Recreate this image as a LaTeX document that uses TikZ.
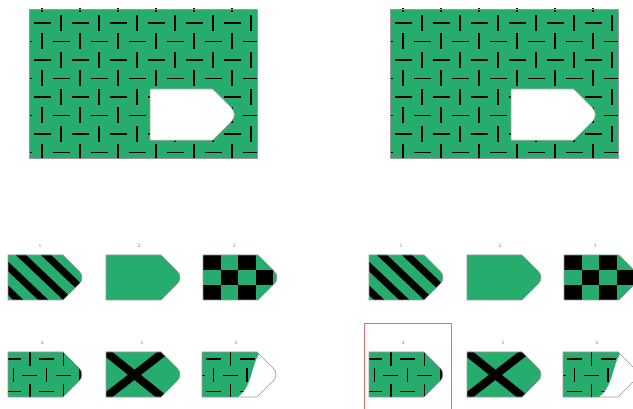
\documentclass[tikz,border=0pt]{standalone}
\usepackage{tikz}
\definecolor{tilegreen}{RGB}{38,172,108}
\definecolor{boxred}{RGB}{236,110,115}

% outline of one tag, local units (pt, y down)
\newcommand{\tagpath}{(0,0) -- (55,0) -- (71.5,16.5) arc (-45:45:8.5) -- (55,45) -- (0,45) -- cycle}
% the dash weave of the big board
\newcommand{\weave}{%
  \foreach \i in {-1,...,12}{%
    \foreach \j in {-1,...,8}{%
      \pgfmathsetmacro\wx{42+19*\i}%
      \pgfmathsetmacro\wy{23+18.5*\j}%
      \pgfmathtruncatemacro\wodd{mod(\i+\j+20,2)}%
      \ifnum\wodd=0
        \draw[weaveline] (\wx-8.5,\wy) -- (\wx+8.5,\wy);
      \else
        \draw[weaveline] (\wx,\wy-8) -- (\wx,\wy+8);
      \fi
    }}}

\newcommand{\panel}{%
  % board with hole
  \begin{scope}
    \clip (29,9) rectangle (257,158);
    \fill[tilegreen] (29,9) rectangle (257,158);
    \weave
  \end{scope}
  \draw[tagline] (29,9) rectangle (257,158);
  \begin{scope}[shift={(150,89)}, scale=1.14]
    \filldraw[fill=white, tagline] \tagpath;
  \end{scope}
  % 1: stripes
  \begin{scope}[shift={(8,255)}]
    \begin{scope}
      \clip \tagpath;
      \fill[tilegreen] (-5,-5) rectangle (80,50);
      \foreach \s in {-2,...,2}
        \draw[line width=7pt] ({13+25*\s-40},-38) -- ({13+25*\s+60},57);
    \end{scope}
    \draw[tagline] \tagpath;
    \node[lbl] (lbl\q1) at (32,-9) {1};
  \end{scope}
  % 2: plain
  \begin{scope}[shift={(106,255)}]
    \filldraw[fill=tilegreen, tagline] \tagpath;
    \node[lbl] (lbl\q2) at (33,-9) {2};
  \end{scope}
  % 3: checks
  \begin{scope}[shift={(203,255)}]
    \begin{scope}
      \clip \tagpath;
      \fill[tilegreen] (-5,-5) rectangle (80,50);
      \foreach \c/\r in {0/0,2/0,4/0,1/1,3/1,0/2,2/2,4/2}
        \fill[black] (17.5*\c,15*\r) rectangle (17.5*\c+17.5,15*\r+15);
    \end{scope}
    \draw[tagline] \tagpath;
    \node[lbl] (lbl\q3) at (31,-9) {3};
  \end{scope}
  % 4: the cut-out piece
  \begin{scope}[shift={(8,352)}]
    \begin{scope}
      \clip \tagpath;
      \fill[tilegreen] (-5,-5) rectangle (80,50);
      \begin{scope}[scale=0.877, shift={(-150,-89)}]
        \weave
      \end{scope}
    \end{scope}
    \draw[tagline] \tagpath;
    \node[lbl] (lbl\q4) at (34,-9) {4};
  \end{scope}
  % 5: cross
  \begin{scope}[shift={(106,352)}]
    \begin{scope}
      \clip \tagpath;
      \fill[tilegreen] (-5,-5) rectangle (80,50);
      \draw[line width=8pt] (-5,-4) -- (61,49);
      \draw[line width=8pt] (-4,48) -- (63,-4);
    \end{scope}
    \draw[tagline] \tagpath;
    \node[lbl] (lbl\q5) at (36,-9) {5};
  \end{scope}
  % 6: partly cut
  \begin{scope}[shift={(202,352)}]
    \begin{scope}
      \clip \tagpath;
      \clip (-5,-5) -- (58,-5) -- (58,0) .. controls (48,16) and (51,33) .. (36,45) -- (36,50) -- (-5,50) -- cycle;
      \fill[tilegreen] (-5,-5) rectangle (80,50);
      \begin{scope}[shift={(6.5,0)}, scale=0.877, shift={(-150,-89)}]
        \weave
      \end{scope}
    \end{scope}
    \draw[tagline] \tagpath;
    \node[lbl] (lbl\q6) at (34,-9) {6};
  \end{scope}
}

\begin{document}
\begin{tikzpicture}[x=1pt, y=-1pt, line join=round,
    weaveline/.style={line width=1.2pt, black},
    tagline/.style={draw=gray!80, line width=0.6pt},
    lbl/.style={font=\fontsize{5}{6}\selectfont, text=gray}]
  \useasboundingbox (0,0) rectangle (633,409);
  \clip (0,0) rectangle (633,409);
  \foreach \p/\q in {0/a, 361/b}{
    \begin{scope}[shift={(\p,0)}]
      \panel
    \end{scope}
  }
  % marks the right answer
  \draw[boxred, line width=1pt] (364,415) -- (364,324) -- (451,324) -- (451,415);
\end{tikzpicture}
\end{document}
